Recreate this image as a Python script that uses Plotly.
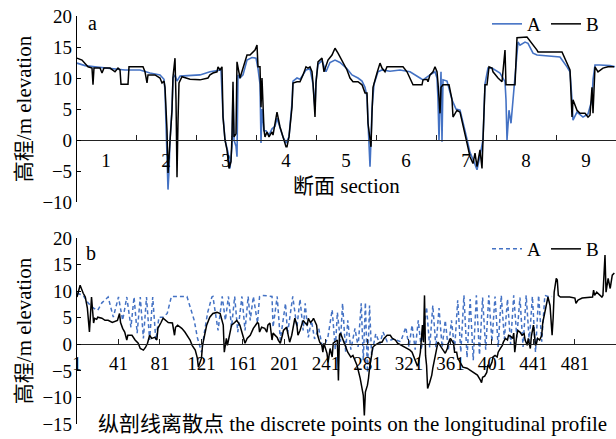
import plotly.graph_objects as go

# ---------------- data ----------------
# Panel a: distance along the concatenated section profiles (each section = 60 units)
sec_labels = ["1", "2", "3", "4", "5", "6", "7", "8", "9"]
SECTION_LEN = 60

a_B_x = [1,6,12,16,17,18,24,26,28,34,39,42,44,45,52,53,67,69,71,72,79,84,86,88,89,91,92,94,96,97,99,100,101,102,103,106,114,124,132,134,137,141,142,144,146,147,149,151,153,155,156,157,158,160,161,164,166,171,174,179,181,182,184,185,186,187,188,189,191,193,196,197,199,201,204,207,210,211,213,216,217,221,224,227,230,232,234,236,237,239,240,242,246,248,252,256,259,262,266,271,274,277,282,286,289,291,292,294,295,296,297,301,304,306,309,311,327,331,334,336,337,346,347,351,352,354,357,359,361,362,364,365,367,373,376,377,381,384,387,391,394,397,399,401,404,406,407,409,411,413,416,417,419,422,426,429,430,439,441,451,461,462,486,491,494,496,497,501,504,509,512,514,516,517,518,519,522,527,532,538]
a_B_y = [13.2,12.9,11.8,11.6,8.9,11.6,11.6,10.8,11.6,11.6,11,11.6,11.3,9,9,11.8,11.8,11,9.2,10.5,10.5,10,9.2,9.5,8.5,1.6,-5.3,-0.5,4.8,10.2,13.2,6.5,-6,3,9.2,10.2,9.8,9.7,10,10.5,10.8,11,11.8,11.3,11.8,3.7,0,-1.6,-4.6,-3.5,0.5,9.4,0.5,1,12.6,10,11,13.7,13.7,14.5,15.3,11.8,11.8,5.3,10,4.8,1.6,0.5,1.3,0.5,1.3,0.8,2.4,4.5,2.1,0.5,-1.1,-1.1,0.5,5.3,9.2,9.4,9.4,10.5,11.8,11.6,11.8,11,9.2,3.7,9.2,12.6,13.2,11,12.9,13.7,14.8,14,12.9,11.3,10,9.4,9.4,8.9,7.6,7.6,2.7,0,-1.1,4.3,8.5,10.8,12.4,11.6,11,11.8,11.8,11,10,9.2,8.9,8.9,9.7,9.8,9.4,10.5,11,11.8,11,9.2,4.3,8.5,8.9,8.9,6.5,3.7,4.8,4.5,2.1,-0.5,-2.7,-3.8,-2.1,-4.3,-1.6,-4.6,0,8.9,8.9,11.8,11.6,11,10.6,10,9.4,14.5,8.9,8.9,16.5,16.6,14.5,14.2,14.2,12.4,11.3,3.7,6.5,4.8,4.3,4.3,3.7,4,8.5,4.3,9.7,11.8,11,11.6,11.8,11.8]

a_A_x = [1,9,19,34,49,64,74,84,88,89,90,91,92,93,94,96,97,99,101,104,114,124,134,142,145,147,149,152,154,156,157,158,160,161,162,164,167,171,176,180,182,184,185,186,188,190,193,196,199,201,204,207,210,213,216,217,221,224,227,230,234,237,239,240,242,246,250,254,259,264,271,276,282,286,289,291,292,294,295,296,298,302,306,314,324,334,344,347,354,359,361,362,363,365,366,367,371,376,380,384,389,394,398,401,404,407,409,412,416,424,429,430,431,433,435,437,439,442,444,449,452,457,461,469,477,484,491,494,496,497,501,507,512,516,517,519,524,534,539]
a_A_y = [12.4,12,11.8,11.5,11.3,11.3,10.8,10.5,9.8,8,2,-5,-8,-5,0,5,10,10.5,9.5,10.3,10.4,10.5,11,11.2,11.3,4,0,-2,-4.6,-1,8,0,-1,-2.7,10.5,10,10.5,12.9,13.3,13.2,11.5,9,-0.5,5,1.5,1.5,0.8,1.8,2.2,3.5,2,0.5,-0.5,0.5,6,9.5,10,9.8,10.5,11.3,11.5,9,5,9.5,12.2,12.8,11,12.5,12.9,12.5,11.5,10.5,10,9.5,8.5,7,3,-4.3,0,5,9,11,11.3,11.1,11.3,11,10,9.7,10.5,11,10,6.5,0,11,-0.3,9.7,9.5,6.5,5,4.8,1.5,-2,-3.5,-4.8,-2.5,0,9,11.6,11.6,10.8,9.4,6.5,0,4.8,2.7,6.5,9.2,15.8,15.3,15.8,15.6,14,13.7,13.6,13.5,13.4,11.8,11,6.5,3.2,4.5,3.7,4.2,6.5,9.7,12.1,12.1,12,11.8]

# Panel b: discrete points on the longitudinal profile
b_ticks = [1, 41, 81, 121, 161, 201, 241, 281, 321, 361, 401, 441, 481]

b_B_x = [1,4,7,9,11,12,13,15,16,17,18,20,21,25,28,31,35,38,40,42,43,45,47,49,50,54,57,60,62,65,67,69,71,73,76,78,79,82,84,89,93,95,96,98,102,105,108,110,112,115,117,118,121,122,124,126,129,132,136,139,142,143,145,146,148,150,153,155,158,161,163,165,168,171,175,176,177,179,182,184,185,187,189,190,194,195,197,199,200,203,204,206,208,209,211,213,214,216,218,219,221,223,224,226,228,229,232,233,235,237,238,239,242,243,245,247,248,252,253,254,255,257,259,261,262,265,267,271,274,277,278,279,281,282,283,285,286,288,291,293,295,297,300,303,305,308,310,314,319,322,324,327,329,330,332,334,335,336,337,338,339,341,343,344,346,348,349,353,356,358,359,361,363,364,365,367,368,370,373,377,380,383,387,390,391,392,394,396,397,399,401,402,404,406,407,409,411,412,414,416,417,419,421,422,423,425,426,428,430,432,433,435,436,438,439,441,443,444,445,447,449,450,452,454,455,457,459,460,461,463,464,465,467,476,481,482,484,488,494,498,499,500,502,505,507,508,510,511,513,515,517,519]
b_B_y = [8.9,11.1,9.6,8.9,6.8,4.1,2.3,8.9,6.4,4.0,4.9,4.7,5.1,4.9,4.5,4.5,4.1,4.3,4.5,5.8,4.1,3.0,2.3,0.8,1.7,1.7,0.8,0.2,-0.8,-1.1,-0.6,0.2,1.7,1.1,1.3,0.8,3.0,4.1,4.9,4.1,4.0,1.7,3.2,3.6,3.0,2.3,1.3,0.8,-0.2,-1.1,-2.6,-4.3,-2.6,-0.2,1.7,3.6,5.1,5.8,6.0,5.8,3.6,-1.5,1.1,-0.2,1.7,3.6,4.1,4.5,3.6,1.7,0.2,1.1,1.7,3.0,4.1,3.9,2.3,3.2,3.0,2.3,3.6,4.0,0.8,2.1,1.3,0.8,0.2,1.7,2.6,3.2,2.3,0.4,1.7,3.0,4.9,3.6,1.7,2.6,4.1,4.5,4.0,3.6,4.9,4.1,4.5,4.9,3.6,1.7,0.4,-0.2,-1.5,0.2,-1.7,-3.4,-0.8,-2.4,0.2,0.8,-6.8,1.7,2.1,1.1,0.2,-0.8,-1.5,-2.4,-2.1,-4.0,-6.4,-9.6,-13.4,-9.0,-7.7,-6.4,-4.5,-2.1,-0.6,-0.2,0.2,0.4,0.4,1.1,1.7,1.7,1.1,0.8,0.2,-0.2,-0.8,-1.1,-1.5,-3.0,-4.0,-3.8,-1.5,3.6,0.4,9.2,-2.1,-4.0,-8.3,-7.2,-5.8,-4.5,-2.6,-0.2,0.4,-0.8,-1.7,-0.8,0.2,1.1,0.4,0.2,-1.5,-1.5,-2.6,-3.4,-4.3,-4.5,-4.9,-5.3,-5.8,-6.8,-7.2,-6.2,-6.0,-5.3,-4.0,-4.3,-3.4,-2.4,-2.1,-2.4,-1.5,-0.8,-0.2,0.4,1.1,0.8,1.7,1.5,1.1,2.1,-1.5,1.7,2.6,2.3,1.7,2.0,0.8,-0.2,1.1,-0.8,1.5,3.6,-0.2,0.2,1.1,0.8,1.7,4.1,6.0,7.9,8.9,7.3,1.7,4.9,9.8,12.4,12.1,9.2,8.9,8.9,8.7,7.7,8.3,8.7,8.9,8.9,10.2,9.2,9.8,9.2,8.9,9.2,16.8,9.8,12.4,10.5,13.0,13.4]

b_A_x = [1,7,12,17,21,25,31,36,41,45,49,53,56,59,62,65,68,71,74,77,80,84,88,92,107,111,114,117,121,124,127,131,132,137,141,144,147,150,153,156,160,163,166,168,171,175,177,180,189,190,194,197,202,204,209,213,216,219,221,224,227,230,234,238,243,247,250,252,255,257,260,262,265,269,272,275,277,279,281,283,285,289,293,296,300,306,313,318,321,324,327,330,333,338,341,344,347,350,353,356,359,362,365,368,371,374,377,380,383,386,389,392,395,398,401,404,407,410,413,416,419,422,425,428,431,434,437,440,443,446,449,452,455,459]
b_A_y = [9.6,9.2,7.7,6.8,6.4,7.8,8.9,5.1,8.9,4.5,8.9,3.2,8.9,2.1,8.9,1.1,8.9,0.8,8.9,0.8,5.1,5.1,5.8,9.0,9.0,6.4,4.5,1.3,-1.5,2.5,6.0,8.9,9.0,2.6,9.0,4.5,9.0,3.2,9.0,2.3,9.0,2.6,9.0,4.5,9.0,4.0,9.0,9.2,9.0,3.2,9.0,0.8,7.7,2.0,9.0,3.2,8.5,2.6,7.7,1.3,4.5,1.0,3.0,-1.0,1.5,6.5,-1.0,6.0,0.5,7.7,-1.5,4.5,-1.0,3.0,-0.5,7.7,-3.0,7.9,-5.3,7.3,-2.0,2.0,0.0,2.3,0.5,1.0,0.5,3.2,-0.5,3.6,-1.0,4.5,-1.0,7.0,-0.6,7.3,-0.6,6.8,-0.6,4.5,-1.0,4.5,-1.0,8.3,-1.5,9.2,-2.5,8.5,-3.0,9.2,-2.0,8.8,-1.0,9.2,0.5,9.0,-0.5,9.2,1.0,8.5,0.0,9.2,1.3,8.8,-0.5,9.2,0.5,9.0,-1.5,9.2,0.5,9.2,9.0,9.0]

# ---------------- style / layout ----------------
FONT = "Liberation Serif, Times New Roman, Noto Sans CJK SC, serif"
BLUE = "#4472C4"
W, H = 616, 439
TOP_DOM = [1 - 202 / H, 1 - 16 / H]
BOT_DOM = [1 - 424 / H, 1 - 238 / H]
TOP_YR = [-10, 20]
BOT_YR = [-15, 20]
BOT_XR = [0.04, 520.6]


def zero_pos(dom, yr):
    return dom[0] + (dom[1] - dom[0]) * (0 - yr[0]) / (yr[1] - yr[0])


fig = go.Figure()
fig.add_trace(go.Scatter(x=a_A_x, y=a_A_y, name="A", mode="lines",
                         line=dict(color=BLUE, width=1.6), xaxis="x", yaxis="y", legend="legend"))
fig.add_trace(go.Scatter(x=a_B_x, y=a_B_y, name="B", mode="lines",
                         line=dict(color="black", width=1.5), xaxis="x", yaxis="y", legend="legend"))
fig.add_trace(go.Scatter(x=b_A_x, y=b_A_y, name="A", mode="lines",
                         line=dict(color=BLUE, width=1.5, dash="4px,3px"), xaxis="x2", yaxis="y2", legend="legend2"))
fig.add_trace(go.Scatter(x=b_B_x, y=b_B_y, name="B", mode="lines",
                         line=dict(color="black", width=1.5), xaxis="x2", yaxis="y2", legend="legend2"))

tickfont = dict(family=FONT, size=19, color="black")
common_y = dict(showline=True, linecolor="black", linewidth=1.2, ticks="inside", ticklen=4,
                tickcolor="black", showgrid=False, zeroline=False, tickfont=tickfont,
                anchor="free", position=0, dtick=5, automargin=False,
                title=dict(text="高程/m elevation", font=dict(family=FONT, size=21, color="black"), standoff=4))

sec_mid = [SECTION_LEN * k + SECTION_LEN / 2 for k in range(len(sec_labels))]
sec_bounds = [SECTION_LEN * k for k in range(1, len(sec_labels))]

fig.update_layout(
    width=W, height=H,
    margin=dict(l=76, r=0, t=0, b=0, autoexpand=False),
    paper_bgcolor="white", plot_bgcolor="white",
    font=dict(family=FONT, size=19, color="black"),
    xaxis=dict(domain=[0, 1], range=[0, SECTION_LEN * len(sec_labels)], anchor="free",
               position=zero_pos(TOP_DOM, TOP_YR), showline=True, linecolor="#222", linewidth=1.3,
               tickmode="array", tickvals=sec_mid, ticktext=sec_labels, ticks="", ticklen=0,
               ticklabelstandoff=3, automargin=False,
               minor=dict(tickmode="array", tickvals=sec_bounds, ticks="inside", ticklen=5, tickcolor="#222"),
               showgrid=False, zeroline=False, tickfont=tickfont),
    yaxis=dict(domain=TOP_DOM, range=TOP_YR, **common_y),
    xaxis2=dict(domain=[0, 1], range=BOT_XR, anchor="free",
                position=zero_pos(BOT_DOM, BOT_YR), showline=True, linecolor="#222", linewidth=1.3,
                tickmode="array", tickvals=b_ticks, ticks="inside", ticklen=5, tickcolor="#222",
                ticklabelstandoff=2, automargin=False,
                showgrid=False, zeroline=False, tickfont=tickfont),
    yaxis2=dict(domain=BOT_DOM, range=BOT_YR, **common_y),
    legend=dict(orientation="h", x=(487 - 76) / 540, xanchor="left", y=1 - 24 / H, yanchor="middle",
                font=dict(family=FONT, size=19), bgcolor="rgba(0,0,0,0)", itemwidth=30),
    legend2=dict(orientation="h", x=(487 - 76) / 540, xanchor="left", y=1 - 249 / H, yanchor="middle",
                 font=dict(family=FONT, size=19), bgcolor="rgba(0,0,0,0)", itemwidth=30),
    annotations=[
        dict(text="a", x=(92 - 76) / 540, y=1 - 23 / H, xref="paper", yref="paper",
             xanchor="center", yanchor="middle",
             showarrow=False, font=dict(family=FONT, size=20)),
        dict(text="b", x=(91 - 76) / 540, y=1 - 253 / H, xref="paper", yref="paper",
             xanchor="center", yanchor="middle",
             showarrow=False, font=dict(family=FONT, size=20)),
        dict(text="断面 section", x=(346 - 76) / 540, y=1 - 186 / H, xref="paper", yref="paper",
             xanchor="center", yanchor="middle",
             showarrow=False, font=dict(family=FONT, size=21)),
        dict(text="纵剖线离散点 the discrete points on the longitudinal profile",
             x=(352 - 76) / 540, y=1 - 424 / H, xref="paper", yref="paper",
             xanchor="center", yanchor="middle",
             showarrow=False, font=dict(family=FONT, size=21)),
    ],
    showlegend=True,
)

fig.write_html("out.html")
